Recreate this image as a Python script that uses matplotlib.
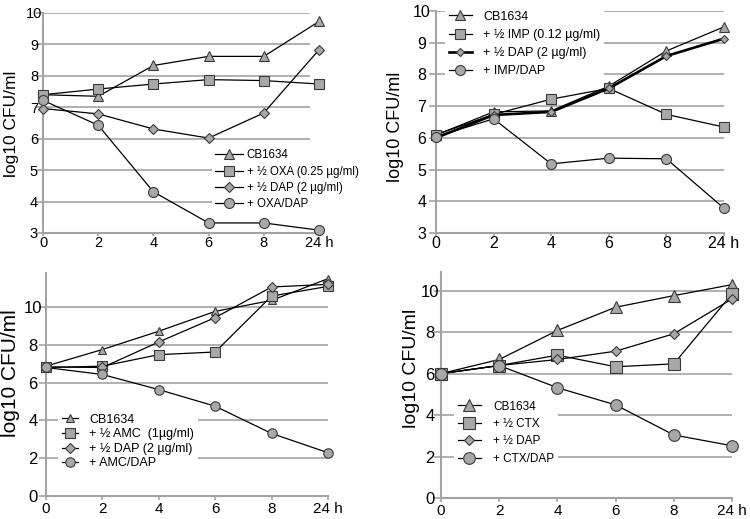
import numpy as np
import matplotlib.pyplot as plt

plt.rcParams['font.family'] = ['Liberation Sans', 'DejaVu Sans']

W, H = 750, 519
times = ['0', '2', '4', '6', '8', '24 h']

# panel A - oxacillin
oxa_labels = ['CB1634', '+ ½ OXA (0.25 µg/ml)', '+ ½ DAP (2 µg/ml)', '+ OXA/DAP']
oxa_ctrl = [7.40, 7.35, 8.33, 8.62, 8.62, 9.73]
oxa_drug = [7.40, 7.58, 7.74, 7.88, 7.85, 7.74]
oxa_dap = [6.96, 6.79, 6.31, 6.02, 6.82, 8.83]
oxa_combo = [7.22, 6.43, 4.31, 3.32, 3.32, 3.09]

# panel B - imipenem
imp_labels = ['CB1634', '+ ½ IMP (0.12 µg/ml)', '+ ½ DAP (2 µg/ml)', '+ IMP/DAP']
imp_ctrl = [6.09, 6.82, 6.85, 7.63, 8.74, 9.50]
imp_drug = [6.10, 6.74, 7.22, 7.56, 6.74, 6.34]
imp_dap = [6.00, 6.72, 6.82, 7.56, 8.58, 9.13]
imp_combo = [6.04, 6.60, 5.18, 5.36, 5.34, 3.78]

# panel C - amoxicillin/clavulanate
amc_labels = ['CB1634', '+ ½ AMC  (1µg/ml)', '+ ½ DAP (2 µg/ml)', '+ AMC/DAP']
amc_ctrl = [6.87, 7.75, 8.72, 9.77, 10.35, 11.5]
amc_drug = [6.80, 6.87, 7.48, 7.62, 10.58, 11.09]
amc_dap = [6.83, 6.80, 8.15, 9.44, 11.06, 11.20]
amc_combo = [6.80, 6.43, 5.63, 4.75, 3.31, 2.29]

# panel D - cefotaxime
ctx_labels = ['CB1634', '+ ½ CTX', '+ ½ DAP', '+ CTX/DAP']
ctx_ctrl = [6.0, 6.68, 8.08, 9.20, 9.76, 10.29]
ctx_drug = [6.0, 6.39, 6.89, 6.33, 6.47, 9.84]
ctx_dap = [6.0, 6.39, 6.68, 7.08, 7.92, 9.60]
ctx_combo = [6.0, 6.39, 5.32, 4.49, 3.04, 2.52]

grey = '#a3a3a3'
fill = '#a8a8a8'
edge = '#3a3a3a'

fig = plt.figure(figsize=(W / 100, H / 100), dpi=100)


def axes_px(l, r, t, b):
    return fig.add_axes([l / W, 1 - b / H, (r - l) / W, (b - t) / H])


def panel(ax, series, labels, ylim, yticks, gridend, msz, tick_fs, tick_d,
          lab_fs, lab_xy, xt, leg):
    x = np.arange(len(times))
    for yv in yticks[1:]:
        ax.hlines(yv, 0, gridend, color=grey, lw=1.2, zorder=1)
    markers = ['^', 's', 'D', 'o']
    lws = [0.9, 0.9, leg.get('dap_lw', 0.9), 0.9]
    for vals, mk, lab, ms, lw in zip(series, markers, labels, msz, lws):
        ax.plot(x, vals, color='black', lw=lw, marker=mk, ms=ms,
                mfc=fill, mec=edge, mew=0.8, label=lab, clip_on=False,
                zorder=3)
    ax.set_xlim(0, 5)
    ax.set_ylim(*ylim)
    ax.set_xticks(x)
    ax.set_xticklabels(times)
    ax.set_yticks(yticks)
    for s in ['top', 'right']:
        ax.spines[s].set_visible(False)
    for s in ['left', 'bottom']:
        ax.spines[s].set_color(grey)
        ax.spines[s].set_linewidth(1.5)
    ax.tick_params(axis='y', length=5, width=1.2, color=grey,
                   labelsize=tick_fs, pad=tick_d * 0.72 - 5)
    ax.tick_params(axis='x', length=xt[1], width=1.2, color=grey,
                   labelsize=xt[0], pad=xt[2])
    for t in ax.get_yticklabels():
        t.set_horizontalalignment('center')
    ax.text(lab_xy[0] / W, 1 - lab_xy[1] / H, 'log10 CFU/ml',
            transform=fig.transFigure, rotation=90, ha='center',
            va='center', fontsize=lab_fs)
    ax.legend(loc='upper left',
              bbox_to_anchor=(leg['x'] / W, 1 - leg['y'] / H),
              bbox_transform=fig.transFigure, frameon=True, fancybox=False,
              edgecolor='none', facecolor='white', framealpha=1,
              borderpad=0.3, borderaxespad=0, fontsize=leg['fs'],
              handlelength=leg['hl'], handletextpad=leg['tp'],
              labelspacing=leg['ls'])


ax1 = axes_px(43, 319, 13, 233)
panel(ax1, [oxa_ctrl, oxa_drug, oxa_dap, oxa_combo], oxa_labels,
      (3, 10), list(range(3, 11)), 4.84, [7.4, 7.7, 4.6, 7.2],
      10.5, 9, 12.5, (12, 124), (10.5, 2, 0.5),
      dict(x=212, y=146, fs=8.3, hl=2.4, tp=0.3, ls=0.37))

ax2 = axes_px(436, 724, 11, 233)
panel(ax2, [imp_ctrl, imp_drug, imp_dap, imp_combo], imp_labels,
      (3, 10), list(range(3, 11)), 5, [6.8, 7.4, 4.4, 7.2],
      11.5, 14, 13, (396, 127), (11.5, 2, 0.5),
      dict(x=445, y=7, fs=9, hl=1.85, tp=0.9, ls=0.49, dap_lw=1.9))

ax3 = axes_px(46, 328, 273, 496)
panel(ax3, [amc_ctrl, amc_drug, amc_dap, amc_combo], amc_labels,
      (0, 11.8), list(range(0, 11, 2)), 5, [6.2, 6.6, 5.0, 6.8],
      12, 13, 15, (11, 373), (11, 3, 1.5),
      dict(x=58, y=410, fs=9, hl=1.3, tp=0.9, ls=0.2))

ax4 = axes_px(441, 732, 272, 498)
panel(ax4, [ctx_ctrl, ctx_drug, ctx_dap, ctx_combo], ctx_labels,
      (0, 10.9), list(range(0, 11, 2)), 5, [9.0, 8.9, 5.6, 8.4],
      12, 11, 14, (412, 368), (11, 3, 1.0),
      dict(x=454, y=397, fs=8.5, hl=2.0, tp=1.0, ls=0.46))

fig.savefig('out.png', dpi=100, facecolor='white')
